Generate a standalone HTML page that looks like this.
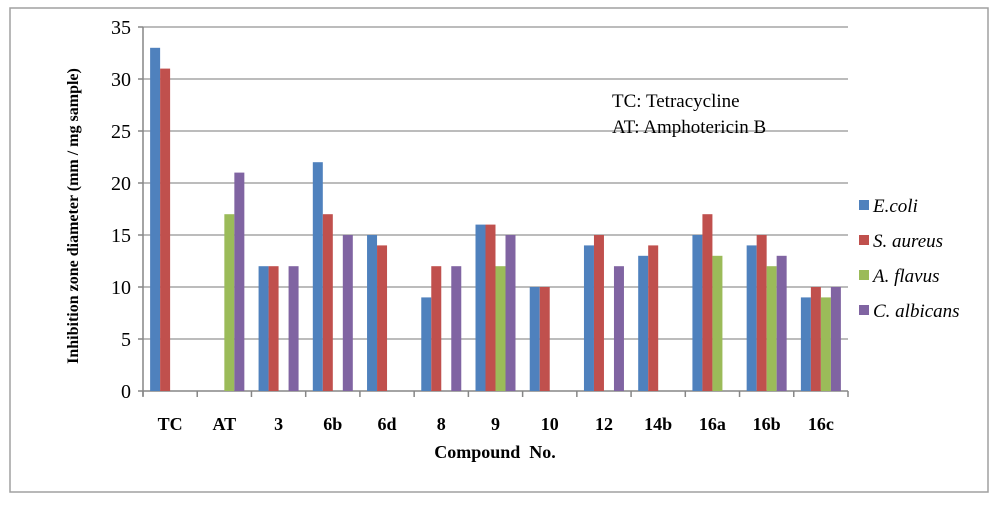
<!DOCTYPE html>
<html><head><meta charset="utf-8"><style>
body{margin:0;background:#fff;}
svg{display:block;font-family:"Liberation Serif",serif;}
</style></head><body>
<svg width="1000" height="507" viewBox="0 0 1000 507">
<rect x="10" y="8" width="978" height="484" fill="#fff" stroke="#a0a0a0" stroke-width="1.5"/>
<g id="grid"></g><g id="bars"></g><g id="axes"></g>
<text x="612" y="107" font-size="19">TC: Tetracycline</text>
<text x="612" y="133" font-size="19">AT: Amphotericin B</text>
<text x="495" y="458" font-size="18" font-weight="bold" text-anchor="middle">Compound&#160; No.</text>
<text transform="translate(78,216) rotate(-90)" font-size="16" font-weight="bold" text-anchor="middle">Inhibition zone diameter (mm / mg sample)</text>
<g id="legend"></g>
</svg>
<script>
const categories=["TC","AT","3","6b","6d","8","9","10","12","14b","16a","16b","16c"];
const seriesNames=["E.coli","S. aureus","A. flavus","C. albicans"];
const ecoli=[33,0,12,22,15,9,16,10,14,13,15,14,9];
const saureus=[31,0,12,17,14,12,16,10,15,14,17,15,10];
const aflavus=[0,17,0,0,0,0,12,0,0,0,13,12,9];
const calbicans=[0,21,12,15,0,12,15,0,12,0,0,13,10];
const yTicks=[0,5,10,15,20,25,30,35];
const colors=["#4f81bd","#c0504d","#9bbb59","#8064a2"];
const NS="http://www.w3.org/2000/svg";
const x0=143,x1=848,y0=391,y35=27;
const bw=(x1-x0)/categories.length;
const ys=v=>y0-(v/35)*(y0-y35);
const xs=i=>x0+i*bw;
function mk(tag,attrs,parent,text){const e=document.createElementNS(NS,tag);for(const k in attrs)e.setAttribute(k,attrs[k]);if(text!==undefined)e.textContent=text;document.getElementById(parent).appendChild(e);return e;}
yTicks.forEach(t=>{
 const l=mk('line',{x1:x0,x2:x1,y1:ys(t),y2:ys(t),stroke:t===0?'#868686':'#a6a6a6','stroke-width':1.5},'grid');
 
 
 const tx=mk('text',{x:x0-12,y:ys(t)+7,'font-size':20,'text-anchor':'end'},'axes',String(t));
 
 
 mk('line',{x1:x0-5,x2:x0,y1:ys(t),y2:ys(t),stroke:'#868686','stroke-width':1.5},'axes');
});
mk('line',{x1:x0,x2:x0,y1:y35,y2:y0+5,stroke:'#868686','stroke-width':1.5},'axes');
for(let i=0;i<=categories.length;i++)mk('line',{x1:xs(i),x2:xs(i),y1:y0,y2:y0+6,stroke:'#868686','stroke-width':1.5},'axes');
const series=[ecoli,saureus,aflavus,calbicans];
categories.forEach((c,i)=>{
 const cx=xs(i)+bw/2;
 const t=mk('text',{x:cx,y:430,'font-size':18,'font-weight':'bold','text-anchor':'middle'},'axes',c);
 
 
 series.forEach((s,j)=>{
  const v=s[i]; if(!v)return;
  const r=mk('rect',{x:cx-20+j*10,y:ys(v),width:10,height:y0-ys(v),fill:colors[j]},'bars');
  
  
 });
});
seriesNames.forEach((n,j)=>{
 const y=207+j*35;
 const r=mk('rect',{x:859,y:y-7,width:10,height:10,fill:colors[j]},'legend');
 
 
 const t=mk('text',{x:873,y:y+5,'font-size':19,'font-style':'italic'},'legend',n);
 
 
});
</script>
</body></html>
